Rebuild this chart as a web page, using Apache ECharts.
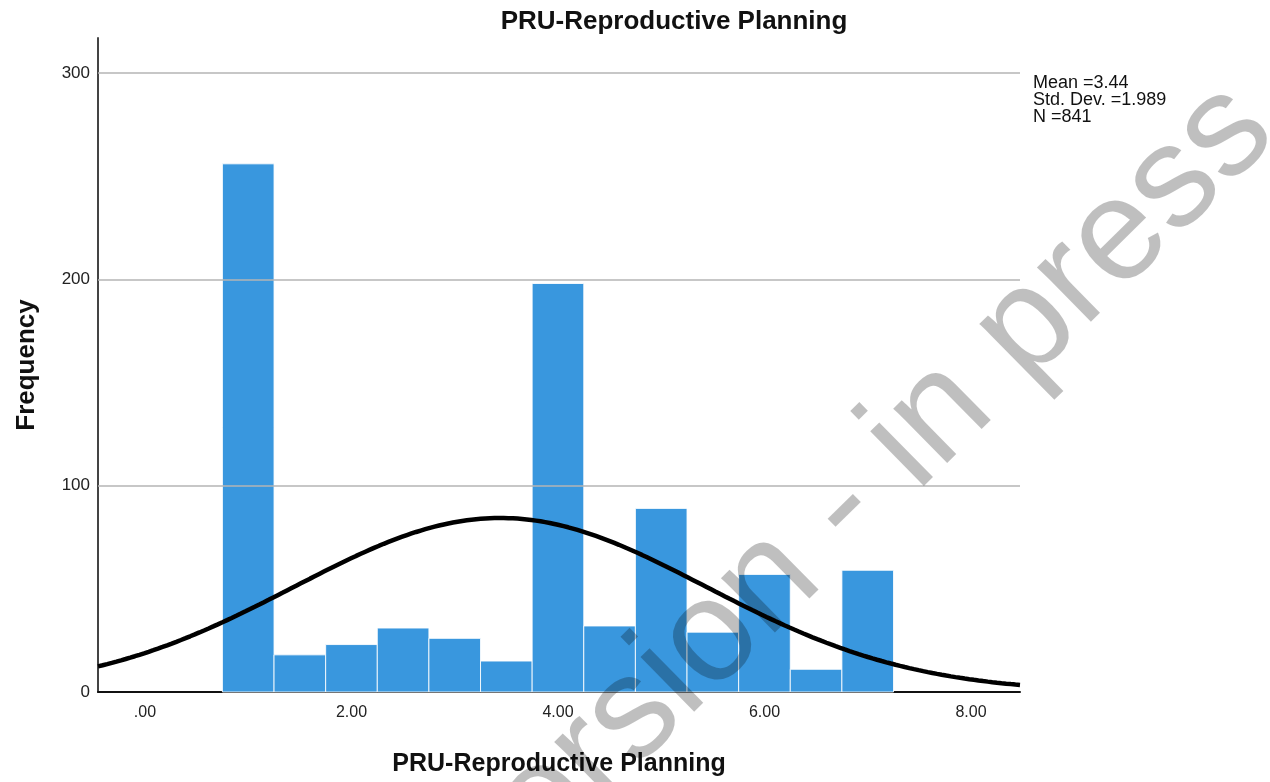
<!DOCTYPE html>
<html>
<head>
<meta charset="utf-8">
<script src="https://cdn.jsdelivr.net/npm/echarts@6/dist/echarts.min.js"></script>
<style>
  html, body { margin: 0; padding: 0; background: #fff; }
  #chart { width: 1270px; height: 782px; }
</style>
</head>
<body>
<div id="chart"></div>
<script>
// Histogram of PRU-Reproductive Planning scores with a fitted normal curve
const binStarts = [0.75, 1.25, 1.75, 2.25, 2.75, 3.25, 3.75, 4.25, 4.75, 5.25, 5.75, 6.25, 6.75];
const binCounts = [256, 18, 23, 31, 26, 15, 198, 32, 89, 29, 57, 11, 59];
const binWidth = 0.5;

const statMean = 3.44;
const statSD = 1.989;
const statN = 841;

const xTickValues = [0, 2, 4, 6, 8];
const yTickValues = [0, 100, 200, 300];

const xMin = -0.455, xMax = 8.475;

// Normal density scaled to counts per bin, using the reported mean, SD and N
const curveData = [];
for (let i = 0; i <= 200; i++) {
  const x = xMin + (xMax - xMin) * i / 200;
  const z = (x - statMean) / statSD;
  const y = statN * binWidth * Math.exp(-0.5 * z * z) / (statSD * Math.sqrt(2 * Math.PI));
  curveData.push([x, y]);
}

const barData = binStarts.map((s, i) => [s, s + binWidth, binCounts[i]]);

const chart = echarts.init(document.getElementById('chart'), null, { renderer: 'canvas' });
const FONT = '"Liberation Sans", Arial, sans-serif';

chart.setOption({
  animation: false,
  backgroundColor: '#ffffff',
  title: {
    text: 'PRU-Reproductive Planning',
    left: 669, top: 4, textAlign: 'center',
    textStyle: { fontFamily: FONT, fontSize: 26, fontWeight: 'bold', color: '#111' }
  },
  grid: { left: 98, right: 250, top: 38, bottom: 89 },
  xAxis: {
    type: 'value', min: xMin, max: xMax,
    name: 'PRU-Reproductive Planning', nameLocation: 'middle', nameGap: 60,
    nameTextStyle: { fontFamily: FONT, fontSize: 25, fontWeight: 'bold', color: '#111' },
    axisLine: { show: true, onZero: false, lineStyle: { color: '#111', width: 2 } },
    axisTick: { show: false },
    splitLine: { show: false },
    axisLabel: {
      customValues: xTickValues, margin: 13,
      fontFamily: FONT, fontSize: 16, color: '#222',
      formatter: v => (v === 0 ? '.00' : v.toFixed(2))
    }
  },
  yAxis: {
    type: 'value', min: 0, max: 317,
    name: 'Frequency', nameLocation: 'middle', nameGap: 58, nameRotate: 90,
    nameTextStyle: { fontFamily: FONT, fontSize: 26, fontWeight: 'bold', color: '#111' },
    axisLine: { show: true, onZero: false, lineStyle: { color: '#444', width: 2 } },
    axisTick: { show: false },
    splitLine: { show: false },
    axisLabel: {
      customValues: yTickValues, margin: 8,
      fontFamily: FONT, fontSize: 17, color: '#222'
    }
  },
  series: [
    {
      type: 'line', data: [], silent: true,
      markLine: {
        symbol: 'none', silent: true, label: { show: false },
        lineStyle: { color: '#b4b4b4', width: 1.5, type: 'solid' },
        data: yTickValues.filter(v => v > 0).map(v => ({ yAxis: v }))
      }
    },
    {
      type: 'custom',
      data: barData,
      encode: { x: [0, 1], y: 2 },
      renderItem: function (params, api) {
        const p0 = api.coord([api.value(0), 0]);
        const p1 = api.coord([api.value(1), api.value(2)]);
        return {
          type: 'rect',
          shape: { x: p0[0], y: p1[1], width: p1[0] - p0[0], height: p0[1] - p1[1] },
          style: { fill: '#3997de', stroke: 'rgba(255,255,255,0.85)', lineWidth: 1 }
        };
      }
    },
    {
      type: 'line', data: curveData, showSymbol: false, smooth: false,
      lineStyle: { color: '#000', width: 4.5 }, z: 5
    }
  ],
  graphic: [
    {
      type: 'text', left: 1033, top: 74,
      style: {
        text: 'Mean =3.44\nStd. Dev. =1.989\nN =841',
        fontFamily: FONT, fontSize: 18, lineHeight: 17, fill: '#111'
      }
    },
    {
      type: 'text', x: 1302, y: 160, rotation: 44.5 * Math.PI / 180,
      z: 100,
      style: {
        text: 'Author version - in press',
        textAlign: 'right', textVerticalAlign: 'bottom',
        fontFamily: FONT, fontSize: 145, fill: 'rgba(0,0,0,0.25)'
      }
    }
  ]
});
</script>
</body>
</html>
